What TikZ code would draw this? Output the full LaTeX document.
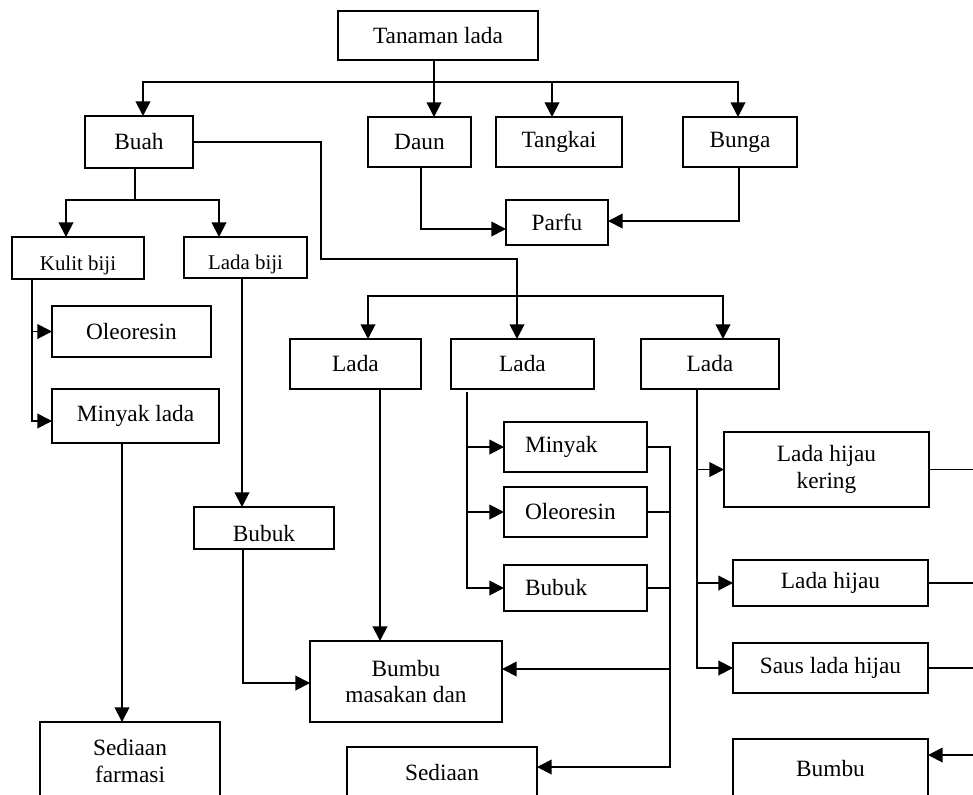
\documentclass[tikz,border=0pt]{standalone}
\usepackage{fontspec}
\setmainfont{Liberation Serif}
\usetikzlibrary{arrows.meta}
\tikzset{
  box/.style={draw, line width=1.4pt, inner sep=0pt, outer sep=0pt, align=center,
    font=\fontsize{17.5}{20}\selectfont},
  smalltxt/.style={font=\fontsize{15.7}{18}\selectfont, text height=18pt, text depth=0pt},
  lefttxt/.style={text width=75.75pt, align=left, inner xsep=15.75pt},
  conn/.style={line width=1.4pt},
  arr/.style={line width=1.4pt, -{Triangle[length=11pt,width=11pt]}}
}
% \bx[options]{name}{x1}{y1}{x2}{y2}{text}
\newcommand{\bx}[7][]{\node[box,minimum width={(#5-#3)*0.75pt},minimum height={(#6-#4)*0.75pt},#1] (#2) at ({(#3+#5)/2},{(#4+#6)/2}) {#7};}
\begin{document}
\begin{tikzpicture}[x=0.75pt,y=-0.75pt]
\useasboundingbox (0,0) rectangle (973,794);
\clip (0,0) rectangle (973,794);
% boxes
\bx{top}{338}{11}{538}{60}{Tanaman lada}
\bx{buah}{85}{116}{193}{168}{Buah}
\bx{daun}{368}{117}{471}{167}{Daun}
\bx{tangkai}{496}{117}{622}{167}{Tangkai}
\bx{bunga}{683}{117}{797}{167}{Bunga}
\bx{parfu}{506}{200}{608}{245}{Parfu}
\bx[smalltxt]{kulit}{12}{237}{144}{279}{Kulit biji}
\bx[smalltxt]{ladabiji}{184}{237}{307}{278}{Lada biji}
\bx{oleo1}{52}{306}{211}{357}{Oleoresin}
\bx{minyaklada}{52}{389}{219}{443}{Minyak lada}
\bx{sediaanf}{40}{722}{220}{800}{Sediaan\\farmasi}
\bx[text height=19.5pt, text depth=0pt]{bubuk1}{194}{507}{334}{549}{Bubuk}
\bx{lada1}{290}{339}{421}{389}{Lada}
\bx{lada2}{451}{339}{594}{389}{Lada}
\bx{lada3}{641}{339}{779}{389}{Lada}
\bx[lefttxt]{minyak}{504}{422}{647}{472}{Minyak}
\bx[lefttxt]{oleo2}{504}{487}{647}{537}{Oleoresin}
\bx[lefttxt]{bubuk2}{504}{565}{647}{611}{Bubuk}
\bx{bumbum}{310}{641}{502}{722}{Bumbu\\masakan dan}
\bx{sediaan2}{347}{747}{537}{797}{Sediaan}
\bx{lhk}{724}{432}{929}{507}{Lada hijau\\kering}
\bx{lh}{733}{560}{928}{606}{Lada hijau}
\bx{saus}{733}{643}{928}{693}{Saus lada hijau}
\bx{bumbu2}{733}{739}{928}{797}{Bumbu}
% coordinates
\coordinate (bT) at (434,82);
\coordinate (bL) at (143,82);
\coordinate (bR) at (738,82);
\coordinate (bK) at (552,82);
\coordinate (dp) at (421,229);
\coordinate (bp) at (739,221);
\coordinate (r1) at (321,259);
\coordinate (r2) at (517,296);
\coordinate (lL) at (368,296);
\coordinate (lR) at (723,296);
\coordinate (kb) at (135,200);
\coordinate (kL) at (66,200);
\coordinate (kR) at (219,200);
\coordinate (mk) at (32,421);
\coordinate (mv) at (122,0);
\coordinate (lb) at (242,0);
\coordinate (bb) at (243,683);
\coordinate (l1) at (380,0);
\coordinate (l2) at (467,392);
\coordinate (c2) at (670,669);
\coordinate (c3) at (670,767);
\coordinate (l3) at (697,0);
\coordinate (ex) at (973,0);
\coordinate (e4) at (973,755);
% connectors top
\draw[arr] (top.south -| bT) -- (bT |- daun.north);
\draw[arr] (bT) -| (bL |- buah.north);
\draw[arr] (bT) -| (bR |- bunga.north);
\draw[arr] (bK) -- (bK |- tangkai.north);
\draw[arr] (daun.south -| dp) |- (parfu.west |- dp);
\draw[arr] (bunga.south -| bp) |- (parfu.east |- bp);
% buah to lada
\draw[arr] (buah.east) -| (r1) -| (lada2.north -| r2);
\draw[arr] (r2) -| (lada1.north -| lL);
\draw[arr] (r2) -| (lada3.north -| lR);
% buah bottom
\draw[conn] (buah.south -| kb) -- (kb);
\draw[arr] (kb) -| (kulit.north -| kL);
\draw[arr] (kb) -| (ladabiji.north -| kR);
% kulit biji
\draw[arr] (kulit.south -| mk) |- (minyaklada.west |- mk);
\draw[arr] (oleo1.west -| mk) -- (oleo1.west);
\draw[arr] (minyaklada.south -| mv) -- (sediaanf.north -| mv);
% lada biji
\draw[arr] (ladabiji.south -| lb) -- (bubuk1.north -| lb);
\draw[arr] (bubuk1.south -| bb) |- (bumbum.west |- bb);
% lada 1
\draw[arr] (lada1.south -| l1) -- (bumbum.north -| l1);
% lada 2
\draw[arr] (l2) |- (bubuk2.west);
\draw[arr] (l2 |- minyak.west) -- (minyak.west);
\draw[arr] (l2 |- oleo2.west) -- (oleo2.west);
\draw[arr] (minyak.east) -| (c3) -- (sediaan2.east |- c3);
\draw[conn] (oleo2.east) -- (oleo2.east -| c3);
\draw[conn] (bubuk2.east) -- (bubuk2.east -| c3);
\draw[arr] (c2) -- (bumbum.east |- c2);
% lada 3
\draw[arr] (lada3.south -| l3) |- (saus.west);
\draw[arr] (l3 |- lhk.west) -- (lhk.west);
\draw[arr] (l3 |- lh.west) -- (lh.west);
\draw[conn] (lhk.east) -- (lhk.east -| ex);
\draw[conn] (lh.east) -- (lh.east -| ex);
\draw[conn] (saus.east) -- (saus.east -| ex);
\draw[arr] (e4) -- (bumbu2.east |- e4);
\end{tikzpicture}
\end{document}
